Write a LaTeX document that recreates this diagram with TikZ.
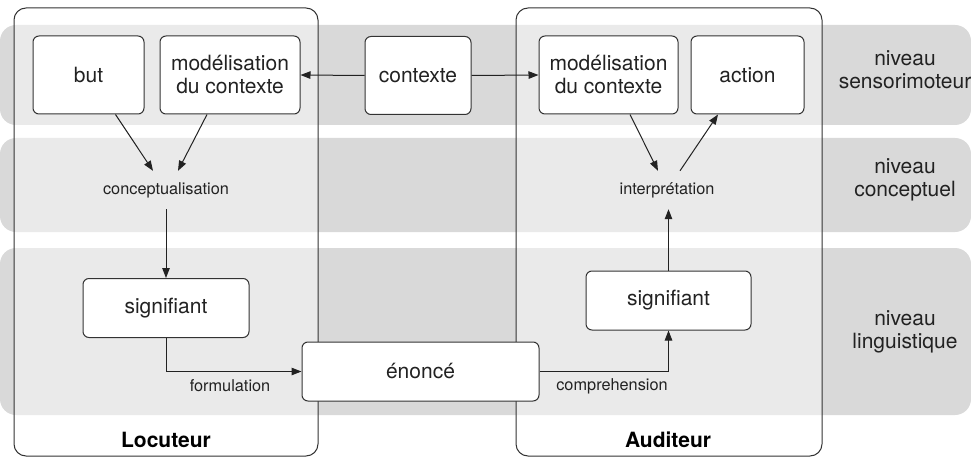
\documentclass[tikz,border=0pt]{standalone}
\usepackage{fontspec}
\setmainfont{TeX Gyre Heros}
\usetikzlibrary{arrows.meta}
\definecolor{bandc}{HTML}{D9D9D9}
\definecolor{linec}{HTML}{333333}
\definecolor{textc}{HTML}{222222}
\tikzset{
  band/.style  ={fill=bandc,rounded corners=16pt},
  panel/.style ={draw=linec,line width=1pt,fill=white,fill opacity=0.45,rounded corners=12pt},
  box/.style   ={draw=linec,line width=1pt,fill=white,rounded corners=6pt,align=center,
                 minimum height=78pt,text=textc,font=\fontsize{21}{23}\selectfont},
  sig/.style   ={box,minimum height=59pt},
  lbl/.style   ={align=center,text=textc,font=\fontsize{16.3}{19}\selectfont},
  level/.style ={align=center,text=textc,font=\fontsize{21}{23}\selectfont},
  actor/.style ={text=black,font=\fontsize{21}{23}\selectfont\bfseries},
  arr/.style   ={-{Triangle[length=10pt,width=7.5pt]},line width=1pt,draw=textc},
}

\begin{document}
\begin{tikzpicture}[x=1pt,y=-1pt]
    \useasboundingbox (0,0) rectangle (971,457);
    % level bands
    \foreach \ya/\yb in {25/125,138/232,248/415}
      \fill[band] (0,\ya) rectangle (971,\yb);
    % speaker / listener panels
    \draw[panel] (14,8) rectangle (318,456);
    \draw[panel] (516,8) rectangle (822,456);

    % sensorimotor level
    \node[box,minimum width=111pt] (but)    at (88.5,75)  {but};
    \node[box,minimum width=140pt] (modL)   at (230,75)   {modélisation\\du contexte};
    \node[box,minimum width=106pt] (ctx)    at (418,75.5) {contexte};
    \node[box,minimum width=139pt] (modR)   at (608.5,75) {modélisation\\du contexte};
    \node[box,minimum width=113pt] (action) at (747.5,75) {action};
    % conceptual level
    \node[lbl,minimum height=38pt] (concept) at (166,190) {conceptualisation};
    \node[lbl,minimum height=38pt] (interp)  at (667,190) {interprétation};
    % linguistic level
    \node[sig,minimum width=166pt] (sigL)   at (166,308)   {signifiant};
    \node[sig,minimum width=165pt] (sigR)   at (668.5,300.5) {signifiant};
    \node[sig,minimum width=237pt] (enonce) at (420.5,371.5) {énoncé};
    \node[lbl] (formul) at (230,386) {formulation};
    \node[lbl] (compre) at (612,386) {comprehension};

    % actors and levels
    \node[actor] (loc) at (166,440) {Locuteur};
    \node[actor] (aud) at (668,440) {Auditeur};
    \node[level] (lvS) at (905,70)  {niveau\\sensorimoteur};
    \node[level] (lvC) at (905,180) {niveau\\conceptuel};
    \node[level] (lvL) at (905,332) {niveau\\linguistique};

    % arrows
    \draw[arr] (ctx.west) -- (modL.east);
    \draw[arr] (ctx.east) -- (modR.west);
    \draw[arr] ([xshift=27pt]but.south) -- ([xshift=-13pt]concept.north);
    \draw[arr] ([xshift=-23pt]modL.south) -- ([xshift=12pt]concept.north);
    \draw[arr] (concept) -- (sigL);
    \draw[arr] (sigL.south) |- (enonce.west);
    \draw[arr] (enonce.east) -| (sigR.south);
    \draw[arr] (sigR.north) -- (sigR.north |- interp.south);
    \draw[arr] ([xshift=21.5pt]modR.south) -- ([xshift=-9pt]interp.north);
    \draw[arr] ([xshift=13pt]interp.north) -- ([xshift=-29.5pt]action.south);
\end{tikzpicture}
\end{document}
